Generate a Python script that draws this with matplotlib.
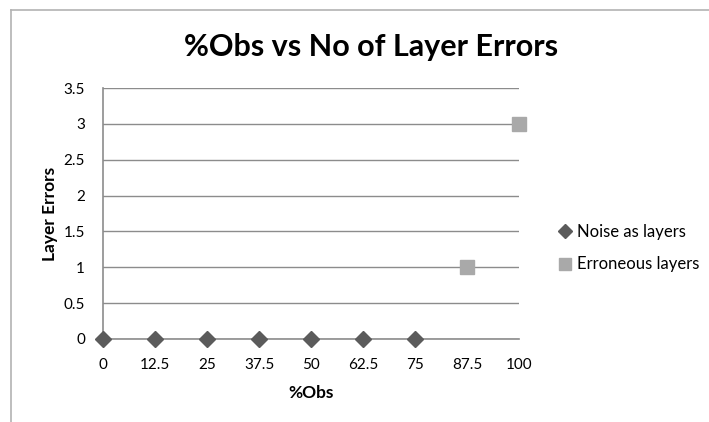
import matplotlib
matplotlib.use("Agg")
import matplotlib.pyplot as plt
from matplotlib.lines import Line2D

# dati
obs_labels = ["0", "12.5", "25", "37.5", "50", "62.5", "75", "87.5", "100"]
noise_x = ["0", "12.5", "25", "37.5", "50", "62.5", "75"]
noise_y = [0, 0, 0, 0, 0, 0, 0]
err_x = ["87.5", "100"]
err_y = [1, 3]
y_ticks = [0, 0.5, 1, 1.5, 2, 2.5, 3, 3.5]
y_tick_labels = ["0", "0.5", "1", "1.5", "2", "2.5", "3", "3.5"]

plt.rcParams["font.family"] = ["Lato", "DejaVu Sans"]

W, H = 709, 422
fig = plt.figure(figsize=(W / 100, H / 100), dpi=100)

# cornice del grafico (esce a destra e in basso)
frame = "#b3b3b3"
fig.add_artist(Line2D([11 / W, 11 / W], [0, 1 - 10 / H], color=frame, lw=1.2,
                      transform=fig.transFigure))
fig.add_artist(Line2D([11 / W, 1], [1 - 10 / H, 1 - 10 / H], color=frame, lw=1.2,
                      transform=fig.transFigure))

x0, x1, y0, y1 = 103, 519, 339, 88
ax = fig.add_axes([x0 / W, 1 - y0 / H, (x1 - x0) / W, (y0 - y1) / H])

# categorie sull'asse x
ax.plot(obs_labels, [None] * len(obs_labels), ls="none")
ax.plot(noise_x, noise_y, ls="none", marker="D", ms=8.5, color="#5b5b5b",
        label="Noise as layers", clip_on=False, zorder=5)
ax.plot(err_x, err_y, ls="none", marker="s", ms=10, color="#a9a9a9",
        label="Erroneous layers", clip_on=False, zorder=5)

ax.set_xlim(0, len(obs_labels) - 1)
ax.set_ylim(0, 3.5)
ax.set_yticks(y_ticks)
ax.set_yticklabels(y_tick_labels)
ax.grid(axis="y", color="#8c8c8c", lw=1)
ax.set_axisbelow(True)
for s in ("top", "right"):
    ax.spines[s].set_visible(False)
for s in ("left", "bottom"):
    ax.spines[s].set_color("#8c8c8c")
    ax.spines[s].set_linewidth(1.2)
ax.tick_params(length=0, labelsize=11, colors="black")
ax.tick_params(axis="x", pad=14)
ax.tick_params(axis="y", pad=13)

ax.set_xlabel("%Obs", fontsize=12.5, fontweight="bold", labelpad=9)
ax.set_ylabel("Layer Errors", fontsize=12.5, fontweight="bold", labelpad=4)

fig.text(371 / W, 1 - 47 / H, "%Obs vs No of Layer Errors", fontsize=22,
         fontweight="bold", ha="center", va="center")

fig.legend(loc="center left", bbox_to_anchor=(557 / W, 1 - 248 / H),
           frameon=False, fontsize=12, handletextpad=0.3, labelspacing=1.0,
           handlelength=0.9, markerscale=0.8, borderpad=0, borderaxespad=0)

fig.savefig("out.png", dpi=100)
